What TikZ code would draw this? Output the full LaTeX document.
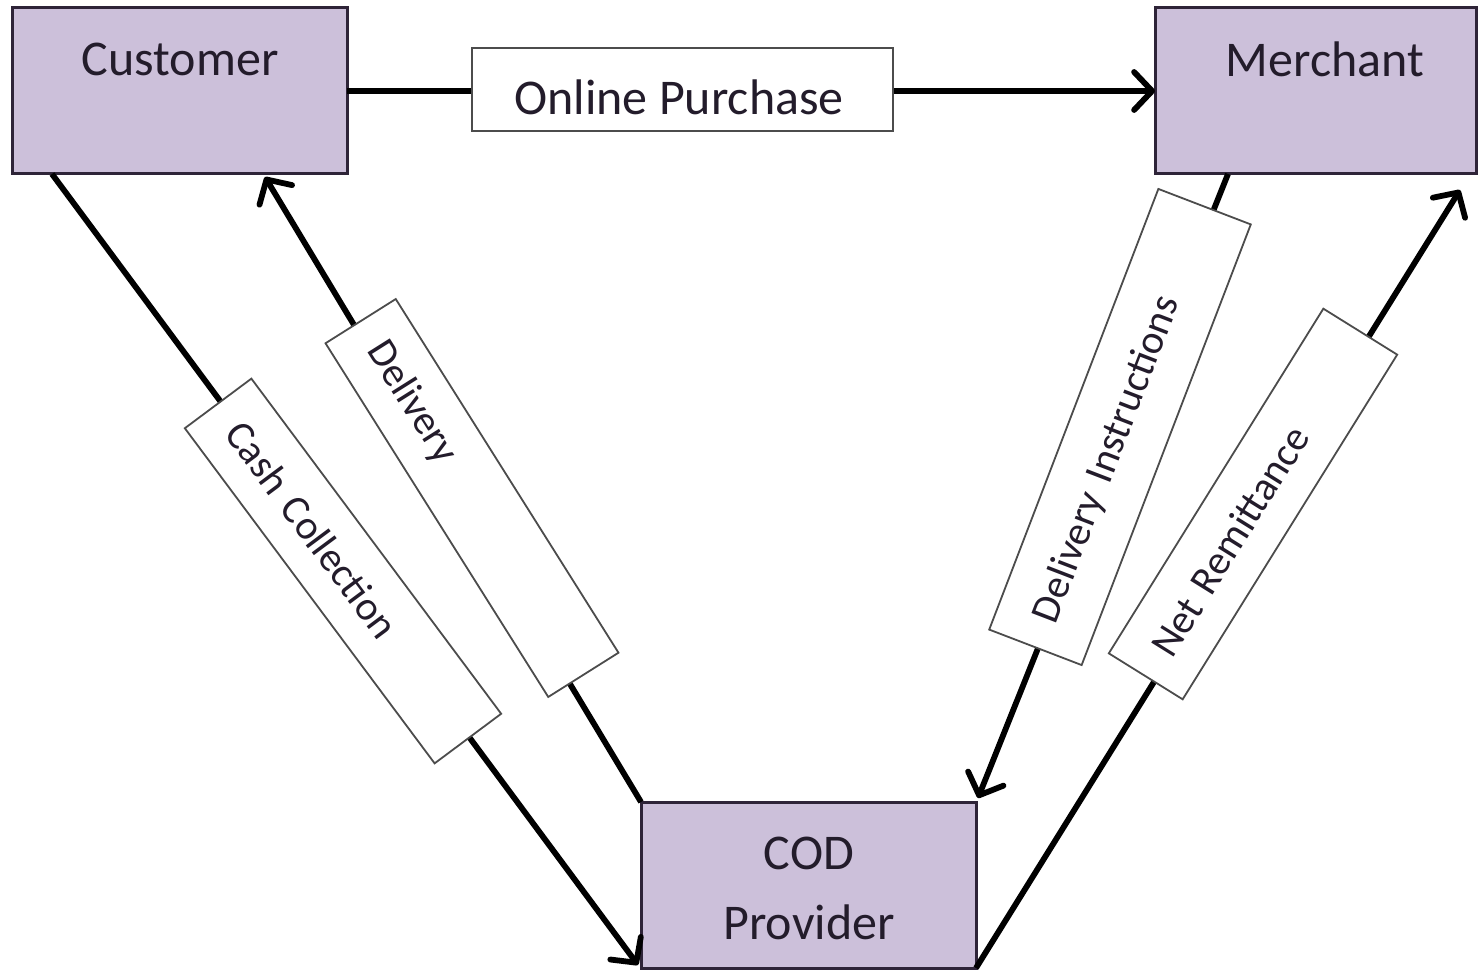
\documentclass[tikz,border=0pt]{standalone}
\usepackage{fontspec}
\setmainfont{Carlito}
\usetikzlibrary{arrows.meta,calc}
\definecolor{boxfill}{HTML}{CCC0DA}
\definecolor{boxline}{HTML}{2E2438}
\definecolor{txt}{HTML}{231C2B}
\begin{document}
\begin{tikzpicture}[x=0.5pt,y=-0.5pt,
  party/.style={draw=boxline, line width=1.5pt, fill=boxfill, minimum width=#1, minimum height=83pt, inner sep=0pt, outer sep=0pt},
  ptext/.style={text=txt, font=\fontsize{25}{35}\selectfont, align=center, inner sep=0pt},
  lbl/.style={draw=black!70, line width=0.9pt, fill=white, inner xsep=14pt, inner ysep=0pt, minimum height=#1, align=left, text=txt, font=\fontsize{20.5}{24}\selectfont},
  arr/.style={line width=2.9pt, -{Straight Barb[length=9pt,width=19pt,line cap=round,line join=round]}}]
\useasboundingbox (0,0) rectangle (1478,972);
% parties
\node[party=167.5pt] (cust) at (179.5,91) {};
\node[party=160.5pt] (merch) at (1315.5,91) {};
\node[party=167.5pt] (cod) at (808.5,885) {};
\node[ptext] (custt) at (180,59) {Customer};
\node[ptext] (mercht) at (1325,59) {Merchant};
\node[ptext] (codt) at (809,888) {COD\\Provider};
% connectors
\draw[arr] (cust.east) -- (merch.west);
\draw[arr] ($(cust.south west)+(40,0)$) coordinate (cc1) -- ($(cod.south west)+(-3,-3)$) coordinate (cc2);
\draw[arr] (cod.north west) -- ($(cust.south west)+(253,3)$) coordinate (dl2);
\draw[arr] ($(merch.south west)+(73,0)$) coordinate (di1) -- ($(cod.north east)+(2,-4)$) coordinate (di2);
\draw[arr] (cod.south east) -- ($(merch.south east)+(-16,16)$) coordinate (nr2);
% labels
\node[draw=black!70, line width=0.9pt, fill=white, minimum width=210.5pt, minimum height=41.5pt, inner sep=0pt] (op) at (682.5,89.5) {};
\node[ptext, font=\fontsize{25}{30}\selectfont] (optext) at (679,97) {Online Purchase};
\node[lbl=41.5pt, text width=181pt, rotate=-53.3] (cash) at (343,571) {Cash Collection};
\node[lbl=41.5pt, text width=181pt, rotate=-57.8] (deliv) at (472,498) {Delivery};
\node[lbl=49.5pt, text width=208pt, rotate=69] (dinst) at (1120,427) {Delivery Instructions};
\node[lbl=43.5pt, text width=175pt, rotate=58.1] (netr) at (1253,504) {Net Remittance};
\end{tikzpicture}
\end{document}
